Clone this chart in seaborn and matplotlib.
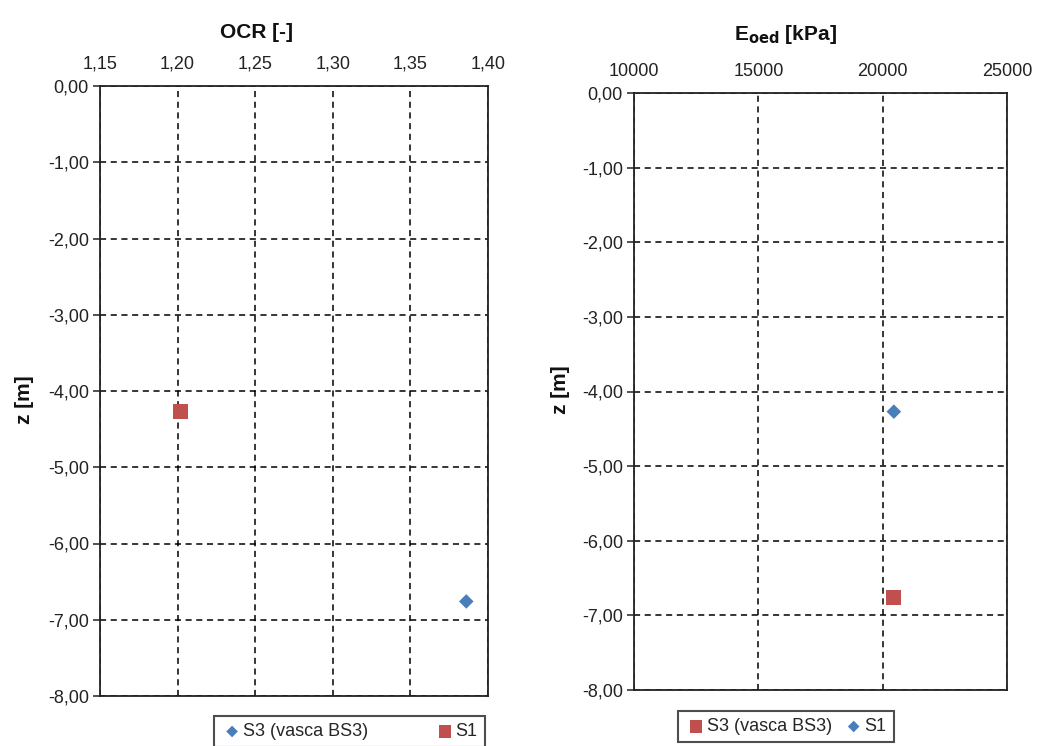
import matplotlib
matplotlib.use("Agg")
import matplotlib.pyplot as plt
import seaborn as sns
import pandas as pd
from matplotlib.ticker import FuncFormatter, MultipleLocator

# ---- data ----
ocr_s3 = [1.386]
z_ocr_s3 = [-6.76]
ocr_s1 = [1.202]
z_ocr_s1 = [-4.27]

eoed_s3 = [20450]
z_eoed_s3 = [-6.76]
eoed_s1 = [20450]
z_eoed_s1 = [-4.27]

label_s3 = "S3 (vasca BS3)"
label_s1 = "S1"

BLUE = "#4A7EBB"
RED = "#C0504D"

sns.set_style("white")
plt.rcParams["font.family"] = ["Liberation Sans", "DejaVu Sans"]

fig = plt.figure(figsize=(10.45, 7.46), dpi=100)
W, H = 1045, 746
def rect(x0, y0, x1, y1):
    return [x0 / W, 1 - y1 / H, (x1 - x0) / W, (y1 - y0) / H]

ax1 = fig.add_axes(rect(100, 86, 488, 696))
ax2 = fig.add_axes(rect(634, 93, 1007, 690))

comma2 = FuncFormatter(lambda v, p: f"{v:.2f}".replace(".", ","))
intfmt = FuncFormatter(lambda v, p: f"{v:.0f}")

def style(ax):
    ax.set_ylim(-8, 0)
    ax.yaxis.set_major_locator(MultipleLocator(1))
    ax.yaxis.set_major_formatter(comma2)
    ax.xaxis.tick_top()
    ax.grid(True, color="black", linestyle=(0, (4, 3)), linewidth=1.1)
    for s in ax.spines.values():
        s.set_color("#222222")
        s.set_linewidth(1.3)
    ax.tick_params(axis="both", labelsize=13, colors="#222222", length=5, width=1.1)
    ax.tick_params(axis="x", top=True, bottom=False, labeltop=True, labelbottom=False, length=0, pad=9.5)
    ax.tick_params(axis="y", left=True, direction="out", pad=3)
    ax.set_axisbelow(True)
    ax.set_xlabel("")
    ax.set_ylabel("")

# left: OCR
df1a = pd.DataFrame({"x": ocr_s3, "z": z_ocr_s3})
df1b = pd.DataFrame({"x": ocr_s1, "z": z_ocr_s1})
sns.scatterplot(data=df1a, x="x", y="z", ax=ax1, marker="D", s=55, color=BLUE,
                edgecolor="none", label=label_s3, zorder=3)
sns.scatterplot(data=df1b, x="x", y="z", ax=ax1, marker="s", s=120, color=RED,
                edgecolor="none", label=label_s1, zorder=3)
ax1.set_xlim(1.15, 1.40)
ax1.xaxis.set_major_locator(MultipleLocator(0.05))
ax1.xaxis.set_major_formatter(comma2)
style(ax1)

# right: Eoed
df2a = pd.DataFrame({"x": eoed_s3, "z": z_eoed_s3})
df2b = pd.DataFrame({"x": eoed_s1, "z": z_eoed_s1})
sns.scatterplot(data=df2a, x="x", y="z", ax=ax2, marker="s", s=120, color=RED,
                edgecolor="none", label=label_s3, zorder=3)
sns.scatterplot(data=df2b, x="x", y="z", ax=ax2, marker="D", s=55, color=BLUE,
                edgecolor="none", label=label_s1, zorder=3)
ax2.set_xlim(10000, 25000)
ax2.xaxis.set_major_locator(MultipleLocator(5000))
ax2.xaxis.set_major_formatter(intfmt)
style(ax2)

# titles and labels
fig.text(256 / W, 1 - 32 / H, "OCR [-]", ha="center", va="center", fontsize=15, fontweight="bold", color="#111111")
fig.text(785 / W, 1 - 35 / H, r"E$_{\mathbf{oed}}$ [kPa]", ha="center", va="center", fontsize=15, fontweight="bold", color="#111111")
fig.text(25 / W, 1 - 400 / H, "z [m]", ha="center", va="center", rotation=90, fontsize=15, fontweight="bold", color="#111111")
fig.text(560 / W, 1 - 390 / H, "z [m]", ha="center", va="center", rotation=90, fontsize=15, fontweight="bold", color="#111111")

# legends
for ax, anchor, colsp in ((ax1, (214, 716), 3.65), (ax2, (678, 711), 0.6)):
    h, l = ax.get_legend_handles_labels()
    ax.get_legend().remove()
    leg = fig.legend(h, l, loc="upper left", bbox_to_anchor=(anchor[0] / W, 1 - anchor[1] / H),
                     ncol=2, fontsize=13, frameon=True, fancybox=False, edgecolor="#222222",
                     handletextpad=0.0, columnspacing=colsp, borderpad=0.4, markerscale=0.8,
                     handlelength=1.2, borderaxespad=0)
    leg.get_frame().set_linewidth(1.5)

fig.savefig("out.png", dpi=100)
